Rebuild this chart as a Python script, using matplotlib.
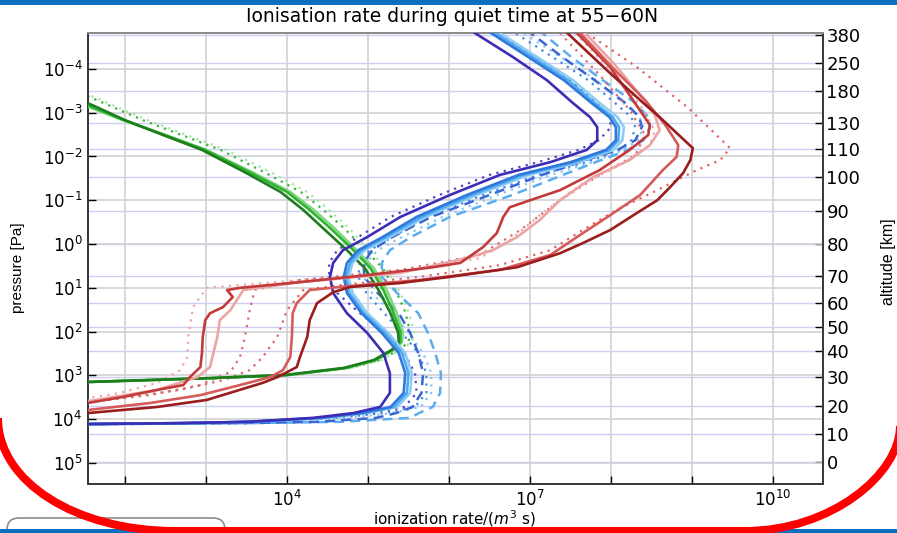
import numpy as np
import matplotlib
matplotlib.use("Agg")
import matplotlib.pyplot as plt
from matplotlib.path import Path
from matplotlib.patches import PathPatch, FancyBboxPatch, Rectangle
from matplotlib.ticker import NullLocator

plt.rcParams['font.family'] = ['DejaVu Sans']
plt.rcParams['mathtext.fontset'] = 'dejavusans'

# all values are log10: pressure in Pa, ionization rate in 1/(m^3 s)

# right axis: altitude labels and the pressure level they belong to
ALT_KM = [380, 250, 180, 130, 110, 100, 90, 80, 70, 60, 50, 40, 30, 20, 10, 0]
ALT_LOGP = [-4.77, -4.13, -3.49, -2.76, -2.17, -1.53, -0.75, 0.0, 0.73,
            1.35, 1.89, 2.44, 3.04, 3.70, 4.34, 4.98]

# green group
GREEN_LOGP = [-3.45, -3.17, -2.83, -2.49, -2.15, -1.64, -1.19, -0.78, -0.37, 0.14, 0.55,
              1.05, 1.55, 2.01, 2.24, 2.42, 2.65, 2.83, 2.99, 3.06, 3.15, 3.22]
green_dark = [1.25, 1.60, 2.00, 2.47, 2.95, 3.48, 3.92, 4.20, 4.44, 4.74, 4.96,
              5.13, 5.27, 5.37, 5.38, 5.29, 5.07, 4.70, 3.98, 3.08, 1.54, 1.00]
green_mid = [1.20, 1.54, 1.99, 2.49, 2.99, 3.54, 4.00, 4.28, 4.53, 4.82, 5.03,
             5.19, 5.31, 5.40, 5.40, 5.30, 5.09, 4.72, 4.00, 3.09, 1.54, 1.00]
green_light = [1.15, 1.50, 1.97, 2.50, 3.00, 3.57, 4.04, 4.33, 4.58, 4.86, 5.07,
               5.23, 5.35, 5.43, 5.42, 5.32, 5.10, 4.74, 4.02, 3.10, 1.56, 1.00]
green_dot = [1.45, 1.80, 2.22, 2.70, 3.18, 3.72, 4.17, 4.45, 4.70, 4.97, 5.18,
             5.34, 5.46, 5.52, 5.50, 5.38, 5.15, 4.78, 4.05, 3.12, 1.56, 1.00]
green_dot_light = [1.50, 1.85, 2.28, 2.76, 3.25, 3.80, 4.25, 4.52, 4.76, 5.02, 5.22,
                   5.38, 5.50, 5.57, 5.54, 5.40, 5.17, 4.80, 4.06, 3.12, 1.56, 1.00]

# blue group
BLUE_LOGP = [-4.9, -4.27, -3.74, -3.22, -2.90, -2.67, -2.37, -2.15, -1.87, -1.58,
             -1.12, -0.62, -0.16, 0.14, 0.43, 0.75, 1.12, 1.58, 2.03, 2.49,
             2.95, 3.40, 3.72, 3.86, 3.97, 4.06, 4.09, 4.11, 4.13]
blue_indigo = [6.25, 6.79, 7.21, 7.53, 7.74, 7.83, 7.83, 7.70, 7.25, 6.63,
               6.01, 5.40, 4.99, 4.69, 4.57, 4.53, 4.57, 4.74, 4.99, 5.19,
               5.27, 5.27, 5.15, 4.82, 4.32, 3.51, 2.68, 1.54, 1.00]
blue_mid = [6.45, 6.98, 7.42, 7.76, 7.98, 8.06, 8.06, 7.94, 7.50, 6.86,
            6.22, 5.60, 5.18, 4.88, 4.74, 4.70, 4.74, 4.92, 5.17, 5.38,
            5.46, 5.44, 5.28, 4.92, 4.40, 3.55, 2.70, 1.54, 1.00]
blue_sky = [6.50, 7.03, 7.47, 7.80, 8.02, 8.10, 8.09, 7.98, 7.55, 6.92,
            6.28, 5.66, 5.22, 4.92, 4.78, 4.73, 4.77, 4.95, 5.21, 5.42,
            5.50, 5.48, 5.32, 4.95, 4.42, 3.56, 2.70, 1.54, 1.00]
blue_pale = [6.56, 7.09, 7.53, 7.86, 8.08, 8.16, 8.14, 8.03, 7.61, 6.98,
             6.34, 5.71, 5.27, 4.96, 4.81, 4.76, 4.81, 4.99, 5.25, 5.46,
             5.54, 5.52, 5.36, 4.98, 4.45, 3.57, 2.71, 1.55, 1.00]
blue_dash = [6.95, 7.40, 7.80, 8.18, 8.35, 8.38, 8.30, 8.08, 7.62, 7.15,
             6.50, 5.78, 5.30, 5.05, 4.95, 4.95, 5.12, 5.38, 5.52, 5.62,
             5.68, 5.66, 5.55, 5.35, 5.10, 4.40, 3.45, 1.90, 1.00]
sky_dash = [7.10, 7.51, 7.90, 8.30, 8.46, 8.48, 8.40, 8.21, 7.81, 7.41,
            6.78, 6.01, 5.53, 5.27, 5.17, 5.17, 5.36, 5.62, 5.74, 5.83,
            5.90, 5.89, 5.80, 5.63, 5.52, 4.65, 3.54, 1.94, 1.00]
indigo_dot = [6.55, 7.08, 7.50, 7.82, 7.98, 8.00, 7.85, 7.60, 7.10, 6.50,
              5.88, 5.28, 4.88, 4.62, 4.52, 4.52, 4.62, 4.90, 5.20, 5.45,
              5.58, 5.60, 5.45, 5.05, 4.45, 3.55, 2.70, 1.54, 1.00]
blue_dot = [6.75, 7.28, 7.72, 8.05, 8.25, 8.30, 8.25, 8.10, 7.70, 7.10,
            6.42, 5.75, 5.30, 5.02, 4.90, 4.88, 4.98, 5.20, 5.42, 5.62,
            5.72, 5.72, 5.58, 5.20, 4.60, 3.60, 2.72, 1.54, 1.00]
sky_dot = [6.85, 7.38, 7.82, 8.15, 8.35, 8.40, 8.33, 8.15, 7.78, 7.25,
           6.60, 5.92, 5.42, 5.12, 4.98, 4.95, 5.05, 5.30, 5.50, 5.68,
           5.78, 5.78, 5.65, 5.30, 4.75, 3.70, 2.80, 1.60, 1.00]

# red group (each curve has its own pressure levels)
darkred_logp = [-4.95, -4.82, -3.90, -3.22, -2.90, -2.19, -1.92, -1.62, -1.30, -1.00,
                -0.71, -0.32, -0.02, 0.21, 0.53, 0.75, 0.89, 0.98, 1.10, 1.35,
                1.74, 2.12, 2.58, 2.81, 3.04, 3.17, 3.56, 3.72, 3.86, 3.96]
darkred_q = [7.40, 7.46, 7.99, 8.40, 8.60, 9.01, 8.98, 8.89, 8.73, 8.57,
             8.32, 7.99, 7.65, 7.37, 6.84, 6.01, 5.40, 4.78, 4.57, 4.37,
             4.28, 4.25, 4.16, 4.12, 3.88, 3.70, 3.01, 2.40, 1.54, 1.00]
salmon_logp = [-4.95, -4.82, -3.97, -3.29, -2.72, -2.26, -1.99, -1.69, -1.12, -0.66,
               -0.21, 0.25, 0.59, 0.82, 0.98, 1.05, 1.35, 1.58, 2.12, 2.58,
               2.88, 3.04, 3.22, 3.45, 3.63, 3.79, 3.88]
salmon_q = [7.56, 7.62, 8.05, 8.42, 8.67, 8.83, 8.81, 8.64, 8.36, 7.99,
            7.62, 7.25, 6.63, 5.64, 4.65, 4.28, 4.12, 4.07, 4.06, 4.04,
            3.95, 3.79, 3.42, 2.93, 2.31, 1.54, 1.00]
red_logp = [-4.95, -4.82, -4.04, -3.40, -2.72, -2.49, -2.15, -1.69, -1.23, -1.00,
            -0.84, -0.62, -0.25, 0.07, 0.43, 0.53, 0.71, 0.87, 1.00, 1.05,
            1.21, 1.44, 1.58, 1.74, 2.12, 2.49, 2.81, 3.04, 3.22, 3.33,
            3.49, 3.63, 3.70]
red_q = [7.52, 7.58, 7.99, 8.23, 8.48, 8.46, 8.23, 7.86, 7.37, 7.00,
         6.75, 6.67, 6.59, 6.42, 6.14, 5.80, 4.99, 4.16, 3.42, 3.26,
         3.33, 3.21, 3.05, 2.99, 2.96, 2.95, 2.93, 2.80, 2.72, 2.40,
         1.98, 1.54, 1.00]
pink_logp = [-4.95, -4.82, -4.09, -3.40, -2.95, -2.60, -2.26, -1.92, -1.53, -1.00,
             -0.55, -0.16, 0.14, 0.32, 0.66, 0.87, 1.05, 1.28, 1.51, 1.74,
             2.12, 2.49, 2.81, 3.04, 3.33, 3.58, 3.66]
pink_q = [7.62, 7.68, 8.05, 8.36, 8.54, 8.60, 8.48, 8.23, 7.78, 7.37,
          7.12, 6.84, 6.54, 6.22, 5.40, 4.16, 3.46, 3.38, 3.30, 3.17,
          3.14, 3.09, 3.05, 2.89, 2.40, 1.57, 1.00]
reddot_logp = [-4.95, -4.82, -4.04, -3.13, -2.19, -1.92, -1.69, -1.23, -0.78, -0.32,
               0.14, 0.48, 0.75, 0.94, 1.05, 1.51, 2.12, 2.58, 2.88, 3.11,
               3.33, 3.52, 3.61, 3.68]
reddot_q = [7.64, 7.70, 8.32, 8.94, 9.47, 9.35, 9.06, 8.57, 8.07, 7.65,
            7.25, 6.63, 5.64, 4.65, 4.20, 4.00, 3.88, 3.70, 3.54, 3.21,
            2.68, 1.94, 1.54, 1.00]
pinkdot_logp = [-4.95, -4.82, -3.97, -3.17, -2.60, -2.26, -1.80, -1.35, -0.66, -0.09,
                0.32, 0.64, 0.82, 1.00, 1.44, 2.12, 2.58, 2.88, 3.17, 3.40,
                3.52, 3.60]
pinkdot_q = [7.50, 7.56, 7.99, 8.36, 8.54, 8.48, 8.11, 7.62, 7.12, 6.75,
             6.38, 5.40, 4.16, 3.01, 2.84, 2.78, 2.77, 2.68, 2.40, 1.94,
             1.54, 1.00]
middot_logp = [-4.95, -4.82, -3.86, -3.06, -2.49, -2.03, -1.58, -1.00, -0.32, 0.25,
               0.59, 0.82, 1.05, 1.51, 2.12, 2.58, 2.92, 3.22, 3.45, 3.61, 3.68]
middot_q = [7.31, 7.37, 7.86, 8.23, 8.42, 8.30, 7.86, 7.37, 6.88, 6.38,
            5.40, 4.16, 3.60, 3.54, 3.48, 3.42, 3.30, 2.93, 2.31, 1.54, 1.00]

DOT = (0, (1, 2.4))
DASH = (0, (4, 2.5))


def draw(ax, logp, logq, color, ls='-', lw=1.9, z=3):
    ax.plot(10.0 ** np.asarray(logq), 10.0 ** np.asarray(logp),
            color=color, ls=ls, lw=lw, zorder=z)


fig = plt.figure(figsize=(8.97, 5.33), dpi=100)
ax = fig.add_axes([88 / 897, 49 / 533, 735 / 897, 451 / 533])
ax.set_xscale('log')
ax.set_yscale('log')
ax.set_xlim(10 ** 1.543, 10 ** 10.617)
ax.set_ylim(10 ** 5.48, 10 ** -4.82)

ax2 = ax.twinx()
ax2.set_yscale('log')
ax2.set_ylim(10 ** 5.48, 10 ** -4.82)
ax2.set_yticks([10.0 ** v for v in ALT_LOGP])
ax2.set_yticklabels([str(a) for a in ALT_KM])
ax2.yaxis.set_minor_locator(NullLocator())
ax2.grid(True, axis='y', color='#cfcff6', lw=1.0)
ax2.tick_params(axis='y', direction='in', length=6, width=1, pad=2.5, labelsize=13)
ax.set_zorder(ax2.get_zorder() + 1)
ax.patch.set_visible(False)

ax.set_xticks([10.0 ** k for k in range(2, 11)])
ax.set_xticklabels(['$10^{%d}$' % k if k in (4, 7, 10) else '' for k in range(2, 11)])
ax.set_yticks([10.0 ** k for k in range(-4, 6)])
ax.set_yticklabels(['$10^{%d}$' % k for k in range(-4, 6)])
ax.xaxis.set_minor_locator(NullLocator())
ax.yaxis.set_minor_locator(NullLocator())
ax.tick_params(direction='in', length=6, width=1, pad=4, labelsize=12)
ax.grid(True, color='#d2d2d6', lw=1.2)

for a in (ax, ax2):
    for side in ('left', 'bottom', 'right'):
        a.spines[side].set_color('#3a3a3a')
        a.spines[side].set_linewidth(1.4)
    a.spines['top'].set_color('#8a8a8a')
    a.spines['top'].set_linewidth(1.4)

# dotted and dashed first, solids on top
draw(ax, GREEN_LOGP, green_dot_light, '#a6e6a6', DOT, 1.6, 2)
draw(ax, GREEN_LOGP, green_dot, '#3db43d', DOT, 1.6, 2)
draw(ax, BLUE_LOGP, sky_dot, '#86c6f1', DOT, 1.6, 2)
draw(ax, BLUE_LOGP, blue_dot, '#3f8ae2', DOT, 1.6, 2)
draw(ax, BLUE_LOGP, indigo_dot, '#5542c6', DOT, 1.6, 2)
draw(ax, BLUE_LOGP, sky_dash, '#5aaeef', DASH, 1.8, 2)
draw(ax, BLUE_LOGP, blue_dash, '#3a66d4', DASH, 1.8, 2)
draw(ax, reddot_logp, reddot_q, '#e06565', DOT, 1.6, 2)
draw(ax, pinkdot_logp, pinkdot_q, '#efa6a6', DOT, 1.6, 2)
draw(ax, middot_logp, middot_q, '#d66e6e', DOT, 1.6, 2)

draw(ax, GREEN_LOGP, green_light, '#82d882')
draw(ax, GREEN_LOGP, green_mid, '#2eb52e')
draw(ax, GREEN_LOGP, green_dark, '#1e7d1e')
draw(ax, BLUE_LOGP, blue_pale, '#8dcdf5')
draw(ax, BLUE_LOGP, blue_sky, '#4fa9ee')
draw(ax, BLUE_LOGP, blue_mid, '#2f78dc')
draw(ax, BLUE_LOGP, blue_indigo, '#3b2db5')
draw(ax, pink_logp, pink_q, '#eca4a4')
draw(ax, red_logp, red_q, '#c43a3a')
draw(ax, salmon_logp, salmon_q, '#d65a5a')
draw(ax, darkred_logp, darkred_q, '#9b1c1c')

fig.text(452 / 897, 1 - 17 / 533, 'Ionisation rate during quiet time at 55\u221260N',
         ha='center', va='center', fontsize=13.5)
fig.text(18 / 897, 1 - 268 / 533, 'pressure [Pa]', rotation=90, ha='center', va='center',
         fontsize=11, family=['Liberation Sans', 'DejaVu Sans'])
fig.text(888 / 897, 1 - 262 / 533, 'altitude [km]', rotation=90, ha='center', va='center',
         fontsize=11.5, family=['Liberation Sans', 'DejaVu Sans'])

# slide decoration around the chart
deco = fig.add_axes([0, 0, 1, 1], zorder=10)
deco.set_xlim(0, 897)
deco.set_ylim(533, 0)
deco.axis('off')
deco.patch.set_visible(False)
deco.add_patch(Rectangle((0, 0), 897, 4.5, color='#0b6fbf', lw=0))
deco.add_patch(FancyBboxPatch((7, 518), 218, 30, boxstyle='round,pad=0,rounding_size=12',
                              fc='white', ec='#8c8c8c', lw=1.2))
deco.add_patch(Rectangle((0, 529), 897, 5, color='#0b6fbf', lw=0))
arc = Path([(-2, 418), (-2, 482), (76, 531), (175, 531), (745, 531),
            (831, 531), (900, 474), (900, 426)],
           [Path.MOVETO, Path.CURVE4, Path.CURVE4, Path.CURVE4, Path.LINETO,
            Path.CURVE4, Path.CURVE4, Path.CURVE4])
deco.add_patch(PathPatch(arc, fill=False, ec='#ff0000', lw=5.8))

# x label kept fully readable just above the red frame
deco.text(455, 508, 'ionization rate/($m^3$ s)', ha='center', va='top', fontsize=11)

fig.savefig('out.png', dpi=100)
